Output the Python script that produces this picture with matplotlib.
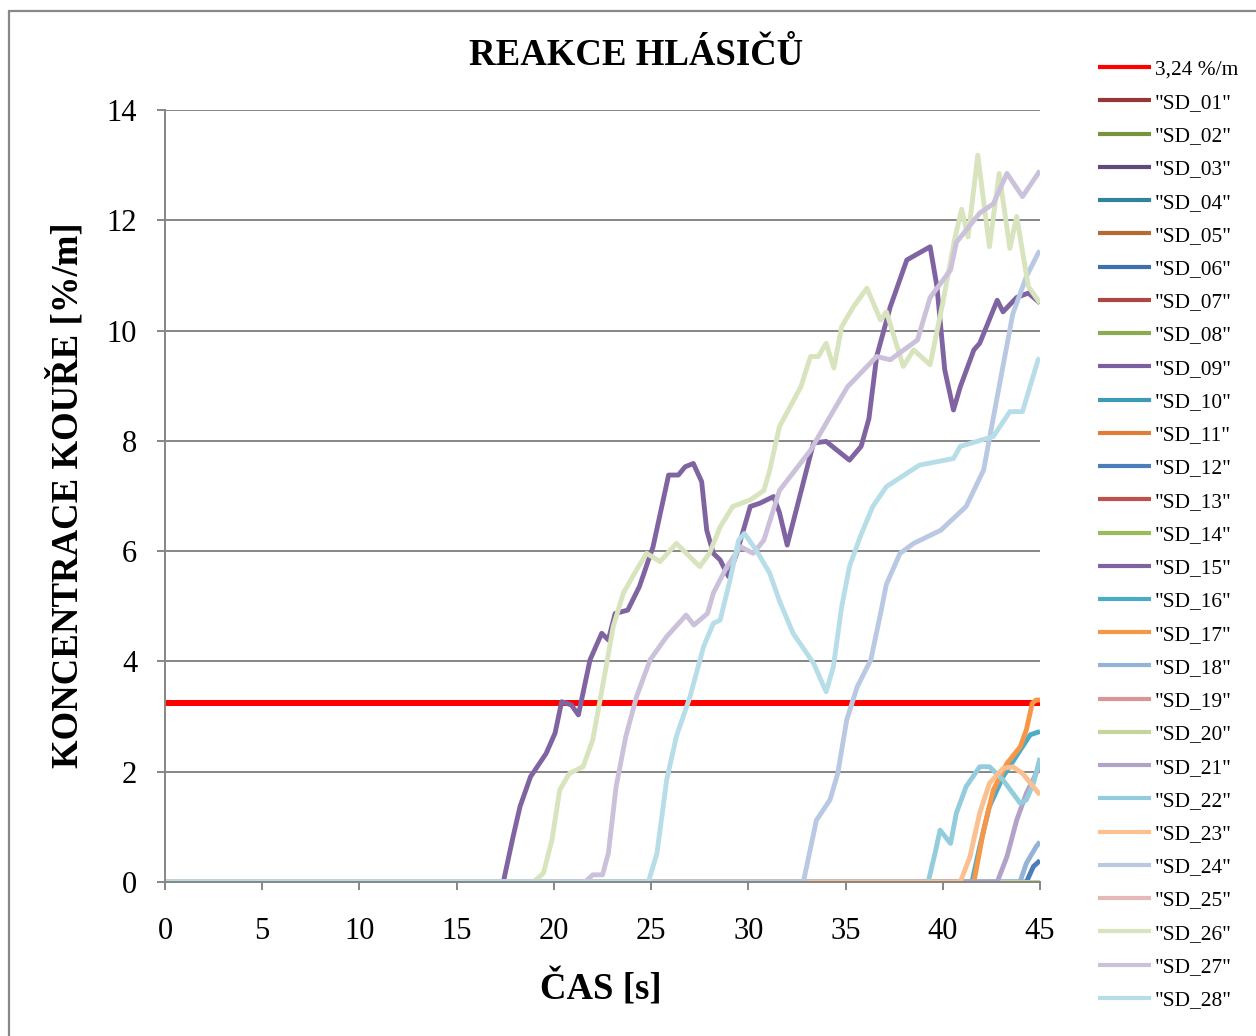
import matplotlib
matplotlib.use("Agg")
import matplotlib.pyplot as plt
from matplotlib.patches import Rectangle

plt.rcParams['font.family'] = ['Liberation Serif', 'DejaVu Serif']

# ---------------- data ----------------
threshold_label = "3,24 %/m"
threshold_value = 3.24
t_range = [0, 45]

series_names = ['"SD_%02d"' % i for i in range(1, 29)]
series_colors = [
    "#953735", "#77933C", "#604A7B", "#31849B", "#B66A32", "#3F6FAF", "#AE4744",
    "#8AAB4F", "#7B5FA0", "#3C9AB5", "#E07E37", "#4A7EBB", "#C0504D", "#9BBB59",
    "#8064A2", "#4BACC6", "#F79646", "#95B3D7", "#D99694", "#C3D69B", "#B3A2C7",
    "#93CDDD", "#FAC090", "#B9C9E3", "#E6B9B8", "#D7E4BD", "#CCC1DA", "#B7DEE8",
]

# series that stay at zero for the whole run
zero_series = ['"SD_01"', '"SD_02"', '"SD_03"', '"SD_04"', '"SD_05"', '"SD_06"',
               '"SD_07"', '"SD_08"', '"SD_09"', '"SD_10"', '"SD_11"', '"SD_13"',
               '"SD_14"', '"SD_19"', '"SD_20"']
zero_t = [0, 45]
zero_v = [0, 0]

sd12_t = [0, 44.3, 44.66, 45]
sd12_v = [0, 0, 0.28, 0.39]

sd15_t = [0, 17.4, 17.9, 18.26, 18.8, 19.6, 20.06, 20.4, 20.9, 21.26, 21.86, 22.46, 22.8,
          23.15, 23.8, 24.4, 25.1, 25.9, 26.4, 26.75, 27.17, 27.6, 27.86, 28.2, 28.55,
          28.98, 29.4, 30.1, 30.6, 31.3, 31.6, 32.0, 33.35, 34.0, 35.2, 35.8, 36.2, 36.6,
          37.3, 38.15, 39.35, 39.7, 40.1, 40.55, 40.9, 41.6, 41.9, 42.8, 43.1, 43.8,
          44.4, 45]
sd15_v = [0, 0, 0.82, 1.37, 1.91, 2.33, 2.7, 3.27, 3.21, 3.03, 4.03, 4.51, 4.39,
          4.87, 4.93, 5.36, 6.08, 7.38, 7.38, 7.53, 7.59, 7.26, 6.38, 5.96, 5.84,
          5.54, 5.96, 6.81, 6.87, 6.99, 6.7, 6.11, 7.96, 7.99, 7.65, 7.9, 8.4, 9.53,
          10.43, 11.28, 11.52, 10.8, 9.29, 8.56, 8.98, 9.65, 9.77, 10.55, 10.34, 10.6,
          10.68, 10.5]

sd16_t = [0, 41.5, 41.9, 42.4, 43.1, 43.98, 44.5, 45]
sd16_v = [0, 0, 0.64, 1.37, 1.91, 2.39, 2.67, 2.73]

sd17_t = [0, 41.6, 42.1, 42.6, 43.3, 43.98, 44.3, 44.6, 44.8, 45]
sd17_v = [0, 0, 0.94, 1.67, 2.15, 2.45, 2.76, 3.24, 3.3, 3.3]

sd18_t = [0, 43.97, 44.3, 44.8, 45]
sd18_v = [0, 0, 0.34, 0.64, 0.73]

sd21_t = [0, 42.8, 43.3, 43.8, 44.3, 44.8, 45]
sd21_v = [0, 0, 0.46, 1.12, 1.61, 1.97, 2.1]

sd22_t = [0, 39.25, 39.6, 39.86, 40.4, 40.7, 41.2, 41.9, 42.4, 43.1, 43.98, 44.3, 44.66, 45]
sd22_v = [0, 0, 0.52, 0.94, 0.7, 1.25, 1.73, 2.09, 2.09, 1.85, 1.43, 1.49, 1.79, 2.25]

sd23_t = [0, 40.9, 41.4, 41.9, 42.4, 43.1, 43.6, 44.1, 45]
sd23_v = [0, 0, 0.46, 1.25, 1.79, 2.06, 2.09, 1.97, 1.58]

sd24_t = [0, 32.83, 33.5, 34.2, 34.6, 35.06, 35.6, 36.3, 36.8, 37.1, 37.8, 38.5, 39.9,
          41.2, 42.1, 42.8, 43.6, 44.3, 44.9, 45]
sd24_v = [0, 0, 1.12, 1.49, 1.97, 2.94, 3.54, 4.03, 4.87, 5.4, 5.96, 6.14, 6.38,
          6.81, 7.47, 8.8, 10.3, 10.98, 11.4, 11.45]

sd25_t = []
sd25_v = []

sd26_t = [0, 18.95, 19.46, 19.9, 20.3, 20.8, 21.5, 22.0, 22.5, 23.05, 23.57, 24.25, 24.77,
          25.46, 26.3, 27.5, 28.0, 28.55, 29.2, 30.1, 30.8, 31.1, 31.6, 32.7, 33.2, 33.6,
          34.0, 34.4, 34.8, 35.4, 36.1, 36.8, 37.1, 37.97, 38.5, 39.35, 40.0, 40.6,
          40.97, 41.3, 41.8, 42.4, 42.9, 43.45, 43.8, 44.4, 44.9, 45]
sd26_v = [0, 0, 0.16, 0.76, 1.67, 1.97, 2.09, 2.58, 3.54, 4.63, 5.24, 5.66, 5.96,
          5.81, 6.14, 5.72, 5.96, 6.44, 6.81, 6.93, 7.1, 7.47, 8.26, 8.98, 9.53, 9.53,
          9.77, 9.32, 10.07, 10.43, 10.77, 10.19, 10.34, 9.35, 9.65, 9.38, 10.5, 11.64,
          12.2, 11.7, 13.18, 11.52, 12.85, 11.49, 12.07, 10.8, 10.55, 10.5]

sd27_t = [0, 21.6, 22.0, 22.5, 22.8, 23.2, 23.7, 24.25, 24.95, 25.8, 26.8, 27.2, 27.9,
          28.2, 28.9, 29.6, 30.25, 30.8, 31.6, 33.2, 34.2, 35.1, 36.6, 37.3, 38.7, 39.35,
          40.4, 40.7, 41.9, 42.6, 43.3, 44.1, 45]
sd27_v = [0, 0, 0.13, 0.13, 0.52, 1.73, 2.64, 3.36, 4.03, 4.45, 4.84, 4.66, 4.87,
          5.24, 5.72, 6.08, 5.96, 6.2, 7.1, 7.83, 8.44, 8.98, 9.53, 9.47, 9.83, 10.6,
          11.1, 11.6, 12.13, 12.3, 12.85, 12.43, 12.9]

sd28_t = [0, 24.86, 25.3, 25.8, 26.3, 27.0, 27.7, 28.2, 28.55, 29.06, 29.5, 29.8, 30.4,
          31.1, 31.6, 32.3, 33.35, 34.0, 34.37, 34.8, 35.2, 35.75, 36.4, 37.1, 38.8,
          40.55, 40.9, 42.6, 43.45, 44.1, 44.9, 45]
sd28_v = [0, 0, 0.52, 1.85, 2.64, 3.36, 4.27, 4.69, 4.75, 5.48, 6.2, 6.32, 6.02,
          5.6, 5.1, 4.51, 3.97, 3.45, 3.9, 4.99, 5.72, 6.26, 6.81, 7.17, 7.56,
          7.68, 7.9, 8.08, 8.53, 8.53, 9.47, 9.5]

active = {
    '"SD_12"': (sd12_t, sd12_v), '"SD_15"': (sd15_t, sd15_v), '"SD_16"': (sd16_t, sd16_v),
    '"SD_17"': (sd17_t, sd17_v), '"SD_18"': (sd18_t, sd18_v), '"SD_21"': (sd21_t, sd21_v),
    '"SD_22"': (sd22_t, sd22_v), '"SD_23"': (sd23_t, sd23_v), '"SD_24"': (sd24_t, sd24_v),
    '"SD_25"': (sd25_t, sd25_v), '"SD_26"': (sd26_t, sd26_v), '"SD_27"': (sd27_t, sd27_v),
    '"SD_28"': (sd28_t, sd28_v),
}

x_ticks = [0, 5, 10, 15, 20, 25, 30, 35, 40, 45]
y_ticks = [0, 2, 4, 6, 8, 10, 12, 14]
title = "REAKCE HLÁSIČŮ"
xlabel = "ČAS [s]"
ylabel = "KONCENTRACE KOUŘE [%/m]"

# ---------------- figure ----------------
W, H = 1256, 1036
fig = plt.figure(figsize=(W / 100, H / 100), dpi=100)
fig.patch.set_facecolor("white")
fig.add_artist(Rectangle((9 / W, -0.05), 1.2, 1.05 - 11 / H,
                         transform=fig.transFigure, fill=False,
                         edgecolor="#888888", lw=1.6, clip_on=False))

ax = fig.add_axes([165 / W, 1 - 882 / H, 875 / W, 772 / H])
gray = "#868686"

ax.plot(t_range, [threshold_value, threshold_value], color="#FF0000", lw=4.3,
        label=threshold_label, solid_capstyle="butt")
for name, color in zip(series_names, series_colors):
    if name in active:
        t, v = active[name]
    else:
        t, v = zero_t, zero_v
    ax.plot(t, v, color=color, lw=3.5, label=name,
            solid_joinstyle="round", solid_capstyle="butt")

ax.set_xlim(0, 45)
ax.set_ylim(0, 14)
ax.set_xticks(x_ticks)
ax.set_yticks(y_ticks)
ax.grid(axis="y", color=gray, lw=1.4)
ax.set_axisbelow(True)
for s in ["top", "right"]:
    ax.spines[s].set_visible(False)
for s in ["left", "bottom"]:
    ax.spines[s].set_color(gray)
    ax.spines[s].set_linewidth(1.4)
ax.tick_params(axis="both", direction="out", length=6, width=1.4, color=gray,
               labelsize=22, labelcolor="black")
ax.tick_params(axis="x", pad=19)
ax.tick_params(axis="y", pad=14)

ax.set_title(title, fontsize=26.5, fontweight="bold", va="center",
             y=(882 - 64) / 772)
ax.title.set_x((636 - 165) / 875)
ax.set_xlabel(xlabel, fontsize=26.5, fontweight="bold", va="center")
ax.xaxis.set_label_coords((601 - 165) / 875, (882 - 988) / 772)
ax.set_ylabel(ylabel, fontsize=26.5, fontweight="bold", va="center")
ax.yaxis.set_label_coords((67 - 165) / 875, (882 - 495) / 772)

leg = fig.legend(loc="center left", bbox_to_anchor=(1098 / W, 1 - 535 / H),
                 frameon=False, fontsize=15.4, handlelength=2.5, handletextpad=0.15,
                 labelspacing=0.62, borderpad=0, borderaxespad=0)
for line in leg.get_lines():
    line.set_linewidth(3.0)

fig.savefig("out.png", dpi=100, facecolor="white")
